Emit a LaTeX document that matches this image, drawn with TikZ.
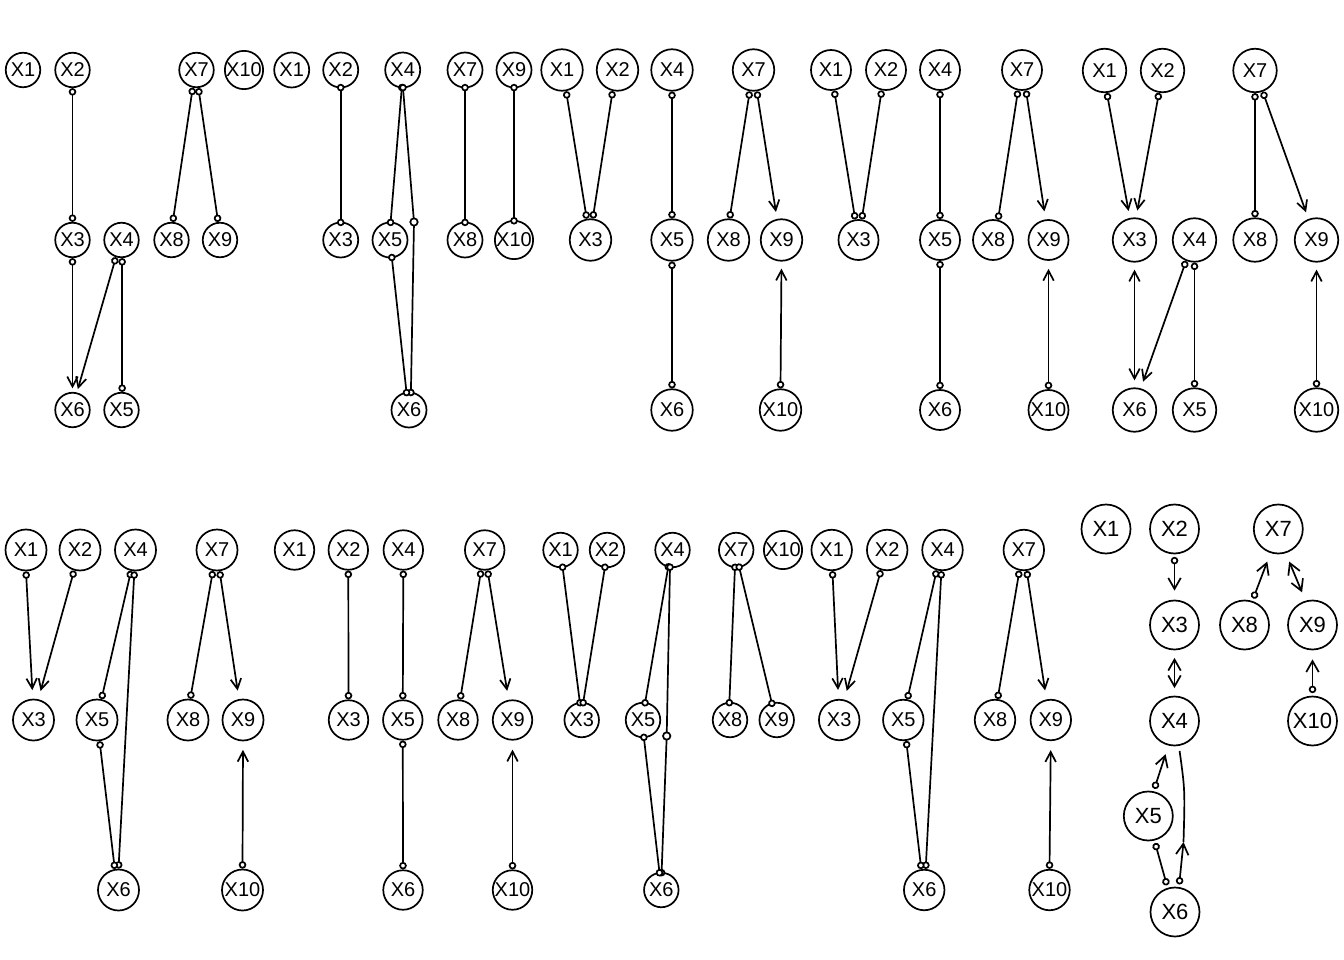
\documentclass[tikz,border=0pt]{standalone}
\usepackage{fontspec}
\setmainfont{Liberation Sans}
\usetikzlibrary{arrows.meta}
\tikzset{
  nd/.style={circle, draw, line width=1.7pt, inner sep=0pt, minimum size=#1, font=\fontsize{20}{20}\selectfont},
  ndbig/.style={nd=#1, font=\fontsize{22}{22}\selectfont},
  E/.style={line width=1.7pt},
  oo/.style={E, {Circle[fill=white,length=7.5pt,width=7.5pt]}-{Circle[fill=white,length=7.5pt,width=7.5pt]}, shorten <=\cshort, shorten >=\cshort},
  oa/.style={E, {Circle[fill=white,length=7.5pt,width=7.5pt]}-{Straight Barb[length=\alen,width=\awid]}, shorten <=\cshort, shorten >=\ashort},
  aa/.style={E, {Straight Barb[length=\alen,width=\awid]}-{Straight Barb[length=\alen,width=\awid]}, shorten <=\ashort, shorten >=\ashort},
  midmark/.style={E, fill=white}
}
\def\alen{10pt}\def\awid{10.5pt}
\begin{document}
\begin{tikzpicture}[x=1pt,y=-1pt]
\path[fill=white, use as bounding box] (0,0) rectangle (1344,960);

% ---------- top panel 1 ----------
\begin{scope}
\def\cshort{0pt}\def\ashort{3.5pt}
\node[nd=34.5] (a1X1) at (23,70) {X1};
\node[nd=34.5] (a1X2) at (72.5,70) {X2};
\node[nd=34.5] (a1X7) at (196.5,70) {X7};
\node[nd=34.5] (a1X10) at (244,70) {X10};
\node[nd=34.5] (a1X3) at (72.5,240) {X3};
\node[nd=34.5] (a1X4) at (121.5,240) {X4};
\node[nd=34.5] (a1X8) at (171.5,240) {X8};
\node[nd=34.5] (a1X9) at (220,240) {X9};
\node[nd=34.5] (a1X6) at (72.5,410) {X6};
\node[nd=34.5] (a1X5) at (121.5,410) {X5};
\draw[oo] (a1X2.270) -- (a1X3.90);
\draw[oo] (a1X7.258) -- (a1X8.86);
\draw[oo] (a1X7.276) -- (a1X9.96);
\draw[oa] (a1X3.270) -- (a1X6.90);
\draw[oa] (a1X4.252) -- (a1X6.76);
\draw[oo] (a1X4.272) -- (a1X5.88);
\end{scope}

% ---------- top panel 2 ----------
\begin{scope}
\def\cshort{-4.5pt}\def\ashort{4pt}
\node[nd=35] (a2X1) at (291.7,70) {X1};
\node[nd=35] (a2X2) at (340.7,70) {X2};
\node[nd=35] (a2X4) at (402.7,70) {X4};
\node[nd=35] (a2X7) at (465,70) {X7};
\node[nd=35] (a2X9) at (514,70) {X9};
\node[nd=35] (a2X3) at (340.7,240) {X3};
\node[nd=35] (a2X5) at (390,240) {X5};
\node[nd=35] (a2X8) at (465,240) {X8};
\node[nd=35] (a2X10) at (514,240) {X10};
\node[nd=35] (a2X6) at (409,410) {X6};
\coordinate (a2m) at (414,222);
\draw[oo] (a2X2.270) -- (a2X3.90);
\draw[oo] (a2X4.267) -- (a2X5.88);
\draw[oo] (a2X4.271) -- (a2m) -- (a2X6.84);
\draw[midmark] (a2m) circle (3.7pt);
\draw[oo] (a2X5.276) -- (a2X6.98);
\draw[oo] (a2X7.270) -- (a2X8.90);
\draw[oo] (a2X9.270) -- (a2X10.90);
\end{scope}

% ---------- top panel 3 ----------
\begin{scope}
\def\cshort{0pt}\def\ashort{7pt}
\node[nd=41.5] (a3X1) at (562,70) {X1};
\node[nd=41.5] (a3X2) at (617.5,70) {X2};
\node[nd=41.5] (a3X4) at (672,70) {X4};
\node[nd=41.5] (a3X7) at (753.5,70) {X7};
\node[nd=41.5] (a3X3) at (590.5,240) {X3};
\node[nd=41.5] (a3X5) at (672,240) {X5};
\node[nd=41.5] (a3X8) at (728.5,240) {X8};
\node[nd=41.5] (a3X9) at (781.5,240) {X9};
\node[nd=41.5] (a3X6) at (672,410) {X6};
\node[nd=41.5] (a3X10) at (780.5,410) {X10};
\draw[oo] (a3X1.281) -- (a3X3.100);
\draw[oo] (a3X2.257) -- (a3X3.84);
\draw[oo] (a3X4.270) -- (a3X5.90);
\draw[oo] (a3X5.270) -- (a3X6.90);
\draw[oo] (a3X7.260) -- (a3X8.87);
\draw[oa] (a3X7.279) -- (a3X9.102);
\draw[oa] (a3X10.90) -- (a3X9.270);
\end{scope}

% ---------- top panel 4 ----------
\begin{scope}
\def\cshort{0pt}\def\ashort{8pt}
\node[nd=40] (a4X1) at (831,70) {X1};
\node[nd=40] (a4X2) at (886,70) {X2};
\node[nd=40] (a4X4) at (940,70) {X4};
\node[nd=40] (a4X7) at (1022,70) {X7};
\node[nd=40] (a4X3) at (858.5,240) {X3};
\node[nd=40] (a4X5) at (940,240) {X5};
\node[nd=40] (a4X8) at (993,240) {X8};
\node[nd=40] (a4X9) at (1048.5,240) {X9};
\node[nd=40] (a4X6) at (940,410) {X6};
\node[nd=40] (a4X10) at (1048.5,410) {X10};
\draw[oo] (a4X1.279) -- (a4X3.99);
\draw[oo] (a4X2.258) -- (a4X3.81);
\draw[oo] (a4X4.270) -- (a4X5.90);
\draw[oo] (a4X5.270) -- (a4X6.90);
\draw[oo] (a4X7.259) -- (a4X8.76);
\draw[oa] (a4X7.281) -- (a4X9.98);
\draw[oa] (a4X10.90) -- (a4X9.270);
\end{scope}

% ---------- top panel 5 ----------
\begin{scope}
\def\cshort{0pt}\def\ashort{7pt}
\node[nd=43.5] (a5X1) at (1104.5,70.5) {X1};
\node[nd=43.5] (a5X2) at (1162.5,70.5) {X2};
\node[nd=43.5] (a5X7) at (1255,70.5) {X7};
\node[nd=43.5] (a5X3) at (1134.5,240) {X3};
\node[nd=43.5] (a5X4) at (1194.5,240) {X4};
\node[nd=43.5] (a5X8) at (1255,240) {X8};
\node[nd=43.5] (a5X9) at (1316.5,240) {X9};
\node[nd=43.5] (a5X6) at (1134.5,410) {X6};
\node[nd=43.5] (a5X5) at (1194.5,410) {X5};
\node[nd=43.5] (a5X10) at (1316.5,410) {X10};
\draw[oa] (a5X1.276) -- (a5X3.102);
\draw[oa] (a5X2.261) -- (a5X3.86);
\draw[oo] (a5X7.270) -- (a5X8.90);
\draw[oa] (a5X7.290) -- (a5X9.111);
\draw[aa] (a5X3.270) -- (a5X6.90);
\draw[oa] (a5X4.248) -- (a5X6.74);
\draw[oo] (a5X4.270) -- (a5X5.90);
\draw[oa] (a5X10.90) -- (a5X9.270);
\end{scope}

% ---------- bottom panel 1 ----------
\begin{scope}
\def\cshort{0pt}\def\ashort{8.5pt}
\node[nd=41] (b1X1) at (26,550) {X1};
\node[nd=41] (b1X2) at (80,550) {X2};
\node[nd=41] (b1X4) at (135.5,550) {X4};
\node[nd=41] (b1X7) at (217,550) {X7};
\node[nd=41] (b1X3) at (33.5,720) {X3};
\node[nd=41] (b1X5) at (97,720) {X5};
\node[nd=41] (b1X8) at (188,720) {X8};
\node[nd=41] (b1X9) at (243,720) {X9};
\node[nd=41] (b1X6) at (118.5,890) {X6};
\node[nd=41] (b1X10) at (242.5,890) {X10};
\draw[oa] (b1X1.270) -- (b1X3.92);
\draw[oa] (b1X2.254) -- (b1X3.77);
\draw[oo] (b1X4.258) -- (b1X5.78);
\draw[oo] (b1X4.267) -- (b1X6.90);
\draw[oo] (b1X5.277) -- (b1X6.100);
\draw[oo] (b1X7.259) -- (b1X8.84);
\draw[oa] (b1X7.277) -- (b1X9.101);
\draw[oa] (b1X10.90) -- (b1X9.270);
\end{scope}

% ---------- bottom panel 2 ----------
\begin{scope}
\def\cshort{0pt}\def\ashort{9pt}
\node[nd=39.5] (b2X1) at (294.5,550) {X1};
\node[nd=39.5] (b2X2) at (348.3,550) {X2};
\node[nd=39.5] (b2X4) at (403.3,550) {X4};
\node[nd=39.5] (b2X7) at (484.7,550) {X7};
\node[nd=39.5] (b2X3) at (348.5,720) {X3};
\node[nd=39.5] (b2X5) at (402.8,720) {X5};
\node[nd=39.5] (b2X8) at (458,720) {X8};
\node[nd=39.5] (b2X9) at (512.5,720) {X9};
\node[nd=39.5] (b2X6) at (403,890) {X6};
\node[nd=39.5] (b2X10) at (512.5,890) {X10};
\draw[oo] (b2X2.270) -- (b2X3.90);
\draw[oo] (b2X4.270) -- (b2X5.90);
\draw[oo] (b2X5.270) -- (b2X6.90);
\draw[oo] (b2X7.260) -- (b2X8.84);
\draw[oa] (b2X7.278) -- (b2X9.101);
\draw[oa] (b2X10.90) -- (b2X9.270);
\end{scope}

% ---------- bottom panel 3 ----------
\begin{scope}
\def\cshort{-4.5pt}\def\ashort{4pt}
\node[nd=34.5] (b3X1) at (560.5,550) {X1};
\node[nd=34.5] (b3X2) at (607,550) {X2};
\node[nd=34.5] (b3X4) at (672.5,550) {X4};
\node[nd=34.5] (b3X7) at (736.2,550) {X7};
\node[nd=34.5] (b3X10) at (783,550) {X10};
\node[nd=34.5] (b3X3) at (581.7,720) {X3};
\node[nd=34.5] (b3X5) at (643,720) {X5};
\node[nd=34.5] (b3X8) at (730,720) {X8};
\node[nd=34.5] (b3X9) at (776.7,720) {X9};
\node[nd=34.5] (b3X6) at (661.3,890) {X6};
\coordinate (b3m) at (666.7,736);
\draw[oo] (b3X1.277) -- (b3X3.96);
\draw[oo] (b3X2.263) -- (b3X3.85);
\draw[oo] (b3X4.256) -- (b3X5.83);
\draw[oo] (b3X4.262) -- (b3m) -- (b3X6.89);
\draw[midmark] (b3m) circle (3.7pt);
\draw[oo] (b3X5.273) -- (b3X6.96);
\draw[oo] (b3X7.266) -- (b3X8.92);
\draw[oo] (b3X7.280) -- (b3X9.106);
\end{scope}

% ---------- bottom panel 4 ----------
\begin{scope}
\def\cshort{0pt}\def\ashort{9pt}
\node[nd=40.5] (b4X1) at (831.7,550) {X1};
\node[nd=40.5] (b4X2) at (887.2,550) {X2};
\node[nd=40.5] (b4X4) at (942.5,550) {X4};
\node[nd=40.5] (b4X7) at (1023.8,550) {X7};
\node[nd=40.5] (b4X3) at (839.2,720) {X3};
\node[nd=40.5] (b4X5) at (903.3,720) {X5};
\node[nd=40.5] (b4X8) at (995,720) {X8};
\node[nd=40.5] (b4X9) at (1050.8,720) {X9};
\node[nd=40.5] (b4X6) at (924.2,890) {X6};
\node[nd=40.5] (b4X10) at (1049.5,890) {X10};
\draw[oa] (b4X1.272) -- (b4X3.92);
\draw[oa] (b4X2.253) -- (b4X3.76);
\draw[oo] (b4X4.254) -- (b4X5.79);
\draw[oo] (b4X4.267) -- (b4X6.86);
\draw[oo] (b4X5.278) -- (b4X6.98);
\draw[oo] (b4X7.258) -- (b4X8.83);
\draw[oa] (b4X7.278) -- (b4X9.102);
\draw[oa] (b4X10.90) -- (b4X9.270);
\end{scope}

% ---------- bottom panel 5 ----------
\begin{scope}
\def\cshort{2.5pt}\def\ashort{9pt}\def\alen{11pt}\def\awid{12.5pt}
\node[ndbig=49] (b5X1) at (1106,529) {X1};
\node[ndbig=49] (b5X2) at (1174.5,529) {X2};
\node[ndbig=49] (b5X7) at (1278.3,529) {X7};
\node[ndbig=49] (b5X3) at (1174.5,625) {X3};
\node[ndbig=49] (b5X8) at (1244.5,625) {X8};
\node[ndbig=49] (b5X9) at (1312.5,625) {X9};
\node[ndbig=49] (b5X4) at (1174.5,721) {X4};
\node[ndbig=49] (b5X10) at (1312.5,721) {X10};
\node[ndbig=49] (b5X5) at (1148.3,816) {X5};
\node[ndbig=49] (b5X6) at (1175,912) {X6};
\coordinate (b5k) at (1183.5,842);
\draw[oa] (b5X2.270) -- (b5X3.90);
\begin{scope}\def\ashort{7.5pt}
\draw[aa] (b5X3.270) -- (b5X4.90);
\end{scope}
\draw[oa] (b5X8.72) -- (b5X7.252);
\draw[aa] (b5X7.287) -- (b5X9.106);
\draw[oa] (b5X10.90) -- (b5X9.270);
\draw[oa] (b5X5.78) -- (b5X4.256);
\draw[oo] (b5X6.107) -- (b5X5.284);
\draw[E, {Circle[fill=white,length=7.5pt,width=7.5pt]}-{Straight Barb[length=\alen,width=\awid]}, shorten <=\cshort] (b5X6.81) -- (b5k);
\draw[E, shorten >=5pt] (b5k) .. controls (1185,790) .. (b5X4.280);
\end{scope}
\end{tikzpicture}
\end{document}
